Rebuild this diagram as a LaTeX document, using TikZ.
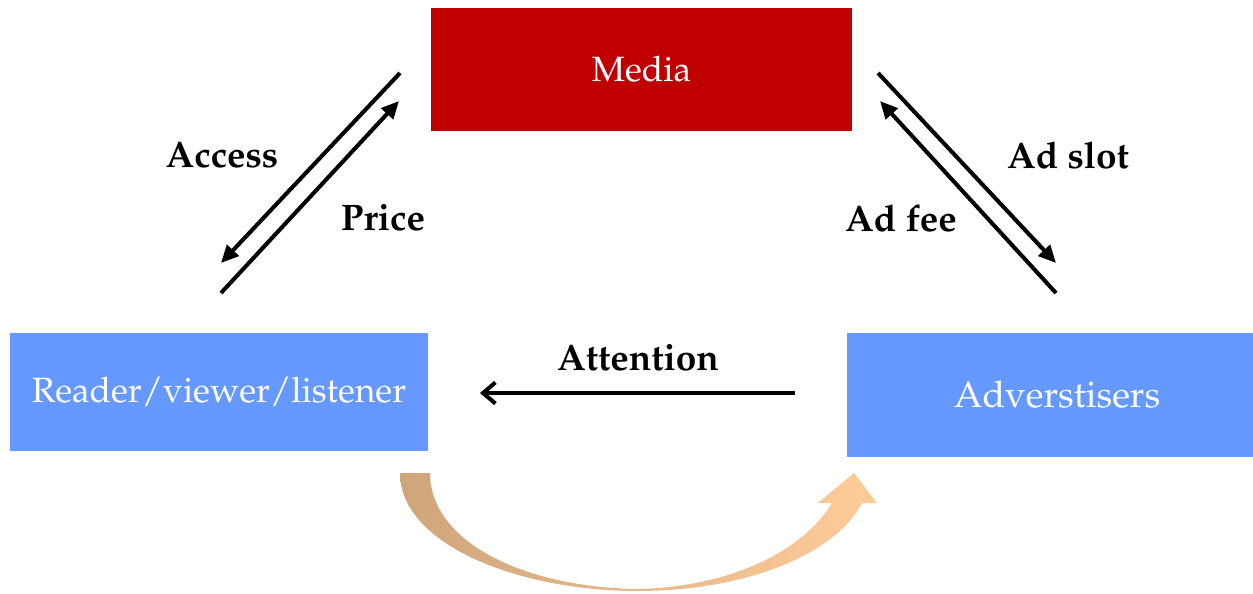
\documentclass[tikz,border=0pt]{standalone}
\usepackage[T1]{fontenc}
\usepackage{mathpazo}
\usetikzlibrary{arrows.meta}
\definecolor{mediared}{HTML}{C00000}
\definecolor{partyblue}{HTML}{6699FF}
\definecolor{tan}{HTML}{CFA57A}
\definecolor{peach}{HTML}{FFCC99}
\begin{document}
\begin{tikzpicture}
        [x=0.02cm, y=-0.02cm,
        box/.style={fill=#1, text=white, inner sep=0pt, font=\fontsize{20}{24}\selectfont},
        lbl/.style={font=\fontsize{21}{25}\selectfont\bfseries},
        flow/.style={line width=2.3pt, -{Triangle[length=10pt,width=9pt]}},
        ]
        \useasboundingbox (0,0) rectangle (1253,593);
        % the three parties
        \node[box=mediared, minimum width=8.42cm, minimum height=2.46cm] (media) at (641.5,69.5) {Media};
        \node[box=partyblue, minimum width=8.36cm, minimum height=2.36cm] (reader) at (219,392) {Reader/viewer/listener};
        \node[box=partyblue, minimum width=8.12cm, minimum height=2.48cm, font=\fontsize{21}{25}\selectfont] (adv) at (1050,395) {\hspace{8pt}Adverstisers};
        % ends of the diagonal flows
        \coordinate (acc1) at (400,73);
        \coordinate (acc2) at (221,263);
        \coordinate (pri1) at (221,293);
        \coordinate (pri2) at (399,101);
        \coordinate (slot1) at (878,73);
        \coordinate (slot2) at (1056,263);
        \coordinate (fee1) at (1056,293);
        \coordinate (fee2) at (880,101);
        \coordinate (att1) at (795,393);
        \coordinate (att2) at (480,393);
        \draw[flow] (acc1) -- (acc2);
        \draw[flow] (pri1) -- (pri2);
        \draw[flow] (slot1) -- (slot2);
        \draw[flow] (fee1) -- (fee2);
        \draw[line width=2.3pt, -{Straight Barb[length=7pt,width=12pt]}] (att1) -- (att2);
        \node[lbl] (access) at (222,155) {Access};
        \node[lbl] (price) at (383,218) {Price};
        \node[lbl] (slot) at (1068,155) {Ad slot};
        \node[lbl] (fee) at (901,218) {Ad fee};
        \node[lbl] (attention) at (638,358) {Attention};
        % curved arrow under the boxes
        \shade[left color=tan, right color=peach, middle color=tan!50!peach]
          (400,473) .. controls (400,545) and (520,591) .. (637,591)
          .. controls (745,591) and (835,555) .. (862,503)
          -- (877,503) -- (854,473) -- (818,503) -- (832,503)
          .. controls (805,548) and (735,587) .. (637,589)
          .. controls (520,587) and (430,540) .. (430,473) -- cycle;
\end{tikzpicture}
\end{document}
